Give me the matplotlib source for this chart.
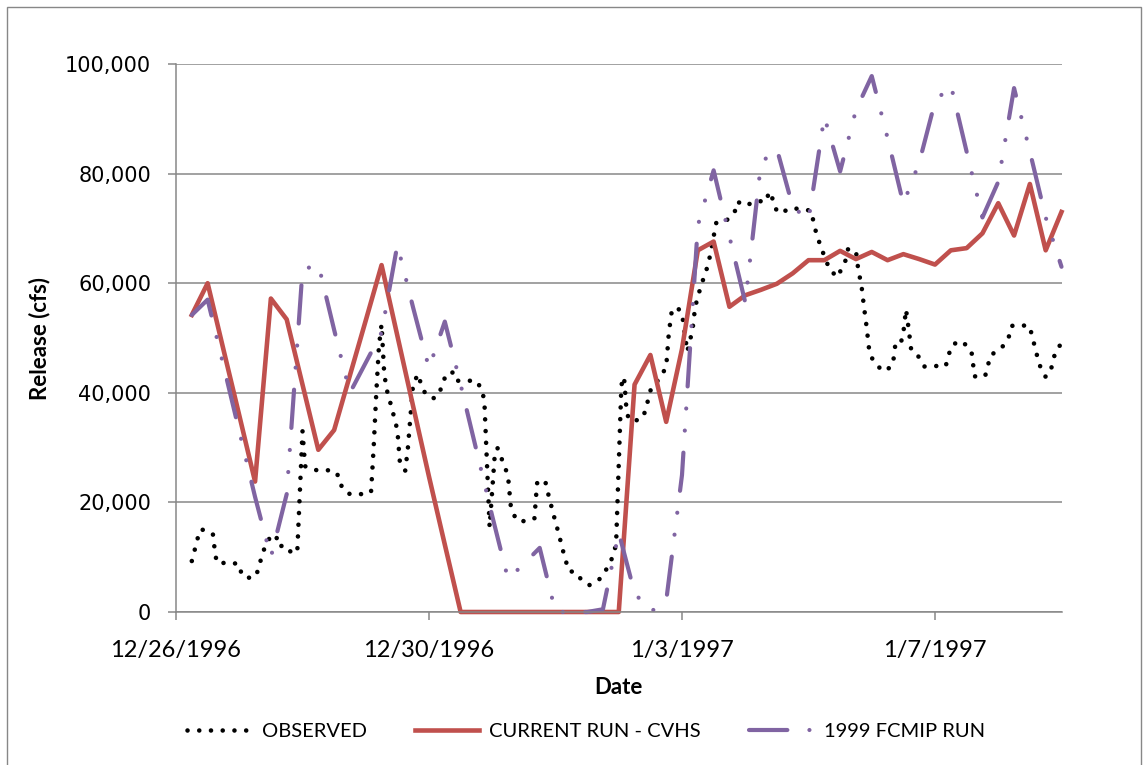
import matplotlib
matplotlib.use("Agg")
import matplotlib.pyplot as plt
import matplotlib.dates as mdates
import pandas as pd
from matplotlib.patches import Rectangle
from matplotlib.ticker import FuncFormatter

plt.rcParams["font.family"] = ["Lato", "DejaVu Sans"]

# Model runs: 6-hourly values starting 12/26/1996 06:00
start = pd.Timestamp("1996-12-26")
run_times = pd.date_range("1996-12-26 06:00", periods=56, freq="6h")

cvhs = [54200, 60000, 47900, 35900, 23800, 57200, 53400, 41500,
        29600, 33200, 43200, 53200, 63300, 50400, 37500, 24700,
        12300, 0, 0, 0, 0, 0, 0, 0,
        0, 0, 0, 0, 41500, 46900, 34700, 48000,
        66000, 67600, 55700, 57800, 58800, 59900, 61800, 64200,
        64200, 65900, 64400, 65700, 64200, 65300, 64400, 63400,
        66000, 66400, 69100, 74600, 68700, 78100, 66000, 73000]

fcmip = [54200, 57000, 45000, 33000, 21000, 10000, 21500, 62400,
         63500, 51500, 40000, 45500, 51000, 67000, 55500, 44500,
         53000, 41500, 29500, 17500, 6000, 8800, 11700, 0,
         0, 0, 500, 14500, 3500, 0, 2000, 25000,
         70500, 80600, 68500, 56500, 82000, 84500, 74000, 71500,
         90400, 80400, 91600, 97800, 86500, 74500, 82000, 93100,
         96200, 84000, 72000, 78500, 95600, 84000, 72000, 63000]

# Observed release, hours after 12/26/1996 00:00
obs_hours = [6, 8, 9, 11, 14, 15, 16, 20, 24, 25, 29, 31, 33, 36, 38, 39, 41, 43,
             46, 48, 49, 52, 56, 60, 62, 63, 66, 70, 74, 75, 76, 77, 78, 79, 80,
             82, 84, 85, 87, 88, 90, 92, 93, 95, 98, 100, 101, 103, 105, 106, 110,
             114, 116, 117, 119, 121, 122, 125, 126, 127, 129, 133, 136, 137, 140,
             141, 142, 144, 145, 147, 149, 152, 154, 157, 161, 164, 166, 167, 169,
             170, 171, 172, 176, 178, 180, 184, 186, 187, 188, 190, 192, 194, 196,
             197, 199, 202, 204, 205, 209, 212, 213, 216, 220, 224, 225, 227, 228,
             230, 233, 238, 241, 242, 243, 245, 248, 251, 254, 255, 258, 259, 260,
             261, 262, 263, 264, 266, 269, 272, 273, 275, 276, 277, 278, 279, 282,
             284, 288, 292, 293, 294, 297, 300, 302, 303, 307, 308, 309, 312, 314,
             316, 317, 320, 324, 325, 326, 327, 328, 330, 332, 333, 334, 336]
obs_cfs = [9300, 13000, 15000, 15000, 14200, 10100, 8800, 9100, 8700, 6600, 6100,
           7400, 11000, 14000, 13900, 11900, 12200, 11100, 10800, 33000, 26600,
           25900, 25900, 25800, 24600, 22600, 21500, 21500, 21800, 30000, 40000,
           48500, 52500, 43500, 40500, 37000, 33200, 27000, 25800, 30000, 41800,
           43400, 41400, 39500, 39000, 39900, 41700, 43700, 43700, 42200, 42200,
           42200, 40600, 38600, 15500, 29000, 29900, 26200, 24700, 19500, 16800,
           16500, 17100, 23500, 24100, 22000, 20100, 16400, 14700, 10900, 7500,
           7200, 5700, 4900, 6100, 8300, 10400, 12500, 41400, 42900, 36500, 35000,
           35000, 36500, 40400, 43000, 44700, 50900, 54500, 55700, 54500, 47500,
           51500, 55700, 59200, 63500, 68500, 71000, 71500, 73000, 74900, 74100,
           75000, 74900, 76700, 74800, 73000, 72900, 73700, 73500, 73200, 71000,
           69000, 66200, 62500, 61100, 64100, 66200, 65900, 62000, 60000, 55900,
           52200, 47900, 46400, 44900, 43900, 45100, 49000, 49000, 51000, 55200,
           51700, 47700, 46500, 44800, 44900, 44800, 46400, 48400, 49500, 48700,
           47100, 43000, 43000, 44800, 46800, 47800, 48600, 50200, 52200, 52400,
           52100, 49900, 48300, 46200, 44700, 42900, 44200, 46300, 47800, 49000]

obs_times = start + pd.to_timedelta(obs_hours, unit="h")

W, H = 1148, 765
fig = plt.figure(figsize=(W / 100, H / 100), dpi=100)
ax = fig.add_axes([176 / W, 1 - 612 / H, (1061.5 - 176) / W, 548 / H])

grey = "#878787"
ax.plot(obs_times.to_pydatetime(), obs_cfs, color="black", lw=3.3,
        linestyle=(0, (0.01, 2.55)), dash_capstyle="round", clip_on=False,
        label="OBSERVED")
ax.plot(run_times.to_pydatetime(), cvhs, color="#C0504D", lw=3.3,
        solid_joinstyle="round", clip_on=False, label="CURRENT RUN - CVHS")
ax.plot(run_times.to_pydatetime(), fcmip, color="#8064A2", lw=3.0,
        linestyle=(0, (9.2, 5.3, 0.01, 5.3, 0.01, 5.3)),
        dash_capstyle="round", clip_on=False, label="1999 FCMIP RUN")

ax.set_xlim(start.to_pydatetime(), (start + pd.Timedelta(days=14)).to_pydatetime())
ax.set_xticks([(start + pd.Timedelta(days=d)).to_pydatetime() for d in (0, 4, 8, 12)])


def fmt_date(v, pos):
    d = mdates.num2date(v)
    return f"{d.month}/{d.day}/{d.year}"


ax.xaxis.set_major_formatter(FuncFormatter(fmt_date))
ax.set_ylim(0, 100000)
ax.set_yticks(range(0, 100001, 20000))
ax.yaxis.set_major_formatter(FuncFormatter(lambda v, p: f"{v:,.0f}"))

ax.yaxis.grid(True, color=grey, lw=1.1)
ax.set_axisbelow(True)
for s in ("top", "right"):
    ax.spines[s].set_visible(False)
for s in ("left", "bottom"):
    ax.spines[s].set_color(grey)
    ax.spines[s].set_linewidth(1.1)

ax.tick_params(axis="y", direction="out", length=5.8, width=1.1, color=grey,
               pad=12, labelsize=15, labelfontfamily="DejaVu Sans")
ax.tick_params(axis="x", direction="out", length=5.8, width=1.1, color=grey,
               pad=14, labelsize=17)

fig.text(40 / W, 1 - 338 / H, "Release (cfs)", rotation=90, ha="center",
         va="center", fontweight="bold", fontsize=16)
fig.text(618 / W, 1 - 688 / H, "Date", ha="center", va="center",
         fontweight="bold", fontsize=16)

fig.legend(loc="center", bbox_to_anchor=(586 / W, 1 - 731 / H), ncol=3,
           frameon=False, fontsize=14.5, handlelength=3.2, handletextpad=0.5,
           columnspacing=2.4)

# chart-area border
fig.add_artist(Rectangle((7 / W, -0.05), (1141 - 7) / W, 1 - 7 / H + 0.05,
                         transform=fig.transFigure, fill=False,
                         edgecolor=grey, lw=1))

fig.savefig("out.png", dpi=100)
